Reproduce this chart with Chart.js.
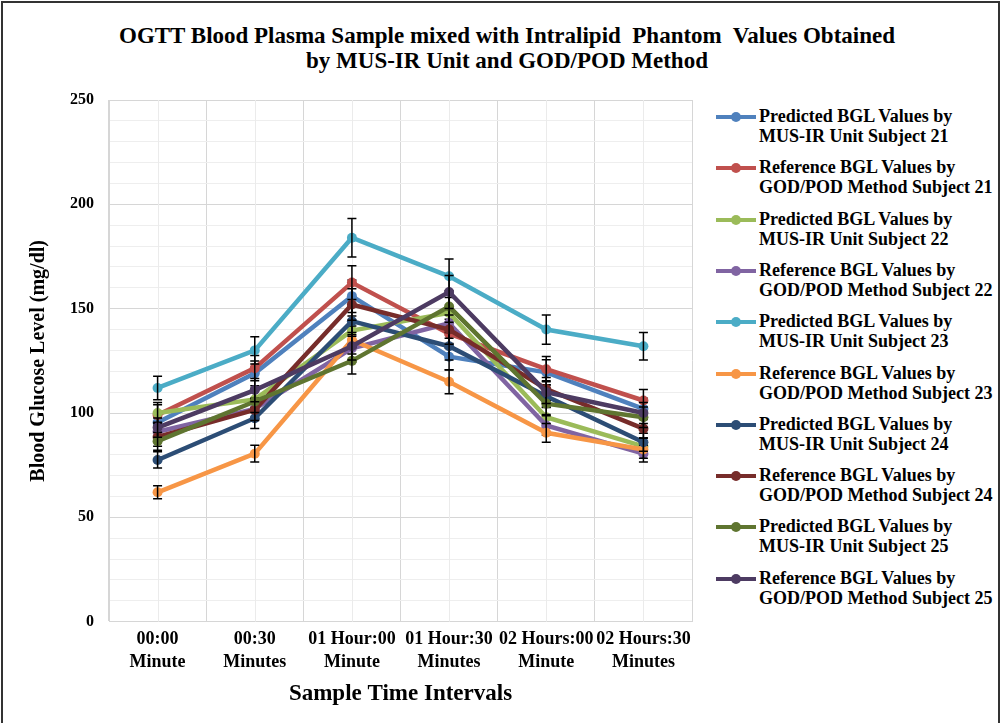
<!DOCTYPE html>
<html>
<head>
<meta charset="utf-8">
<script src="https://cdn.jsdelivr.net/npm/chart.js@4.4.0/dist/chart.umd.min.js"></script>
<style>
  body { margin: 0; background: #fff; }
  #frame { position: absolute; left: 1px; top: 1px; width: 995px; height: 725px; border: 2px solid #333; }
  #title { position: absolute; left: 0; top: 23px; width: 1014px; text-align: center;
           font: bold 23px "Liberation Serif", "Times New Roman", serif; line-height: 25px; color: #000; }
  #wrap { position: absolute; left: 0; top: 0; }
  #legend { position: absolute; left: 0; top: 0; font: bold 18px "Liberation Serif", "Times New Roman", serif; color: #000; }
  .item { position: absolute; left: 716px; }
  .sw { position: absolute; left: 0; top: 7px; width: 40px; height: 4px; }
  .dot { position: absolute; left: 15px; top: 4px; width: 10px; height: 10px; border-radius: 50%; }
  .txt { position: absolute; left: 43px; top: -2px; white-space: nowrap; line-height: 20px; }
</style>
</head>
<body>
<div id="frame"></div>
<div id="title">OGTT Blood Plasma Sample mixed with Intralipid&nbsp; Phantom&nbsp; Values Obtained<br>by MUS-IR Unit and GOD/POD Method</div>
<div id="wrap"><canvas id="chart" width="706" height="723"></canvas></div>
<div id="legend"></div>
<script>
// time points (x axis), two lines each
const timeLabels = [
    ["00:00", "Minute"],
    ["00:30", "Minutes"],
    ["01 Hour:00", "Minute"],
    ["01 Hour:30", "Minutes"],
    ["02 Hours:00", "Minute"],
    ["02 Hours:30", "Minutes"]
];

// BGL values in mg/dl
const pred21 = [95.5, 119, 156, 127, 119.5, 102];
const ref21  = [99, 121.5, 162.5, 138, 121, 106];
const pred22 = [100, 106.5, 139.5, 148, 98, 84];
const ref22  = [91, 102, 131, 143, 94, 80.5];
const pred23 = [112, 130, 184, 165.5, 140, 132];
const ref23  = [62, 80.5, 135, 115, 90.5, 82.5];
const pred24 = [77.5, 97.5, 144, 132, 108, 86];
const ref24  = [88.5, 101.5, 152, 140, 111.5, 92.5];
const pred25 = [86.5, 105.5, 125, 151, 104.5, 98];
const ref25  = [93, 111, 132, 158, 110, 100];

const seriesNames = [
    ["Predicted BGL Values by", "MUS-IR Unit Subject 21"],
    ["Reference BGL Values by", "GOD/POD Method Subject 21"],
    ["Predicted BGL Values by", "MUS-IR Unit Subject 22"],
    ["Reference BGL Values by", "GOD/POD Method Subject 22"],
    ["Predicted BGL Values by", "MUS-IR Unit Subject 23"],
    ["Reference BGL Values by", "GOD/POD Method Subject 23"],
    ["Predicted BGL Values by", "MUS-IR Unit Subject 24"],
    ["Reference BGL Values by", "GOD/POD Method Subject 24"],
    ["Predicted BGL Values by", "MUS-IR Unit Subject 25"],
    ["Reference BGL Values by", "GOD/POD Method Subject 25"]
];
const seriesData = [pred21, ref21, pred22, ref22, pred23, ref23, pred24, ref24, pred25, ref25];

const yTicks = [0, 50, 100, 150, 200, 250];
const errorPct = 0.05; // percentage error bars

const colors = ["#4F81BD", "#C0504D", "#9BBB59", "#8064A2", "#4BACC6",
                "#F79646", "#2C4D75", "#772C2A", "#5F7530", "#4D3B62"];

const serif = "'Liberation Serif', 'Times New Roman', serif";

// light lines through the category centres (Excel minor gridlines)
const minorX = {
    id: "minorX",
    beforeDatasetsDraw(chart) {
        const { ctx, chartArea, scales } = chart;
        ctx.save();
        ctx.strokeStyle = "#ebebeb";
        ctx.lineWidth = 1;
        timeLabels.forEach((_, i) => {
            const x = Math.round(scales.x.getPixelForValue(i)) + 0.5;
            ctx.beginPath();
            ctx.moveTo(x, chartArea.top);
            ctx.lineTo(x, chartArea.bottom);
            ctx.stroke();
        });
        ctx.restore();
    }
};

// black error bars, drawn with each series
const errorBars = {
    id: "errorBars",
    afterDatasetDraw(chart, args) {
        const { ctx, scales } = chart;
        const vals = chart.data.datasets[args.index].data;
        ctx.save();
        ctx.strokeStyle = "#000";
        ctx.lineWidth = 1.5;
        args.meta.data.forEach((pt, i) => {
            const v = vals[i];
            const yt = scales.y.getPixelForValue(v * (1 + errorPct));
            const yb = scales.y.getPixelForValue(v * (1 - errorPct));
            ctx.beginPath();
            ctx.moveTo(pt.x, yt); ctx.lineTo(pt.x, yb);
            ctx.moveTo(pt.x - 4.5, yt); ctx.lineTo(pt.x + 4.5, yt);
            ctx.moveTo(pt.x - 4.5, yb); ctx.lineTo(pt.x + 4.5, yb);
            ctx.stroke();
        });
        ctx.restore();
    }
};

const chart = new Chart(document.getElementById("chart"), {
    type: "line",
    data: {
        labels: timeLabels,
        datasets: seriesData.map((d, i) => ({
            label: seriesNames[i].join(" "),
            data: d,
            borderColor: colors[i],
            backgroundColor: colors[i],
            borderWidth: 4.5,
            pointRadius: 5,
            pointBorderWidth: 0,
            tension: 0,
            order: seriesData.length - i
        }))
    },
    options: {
        responsive: false,
        animation: false,
        layout: { padding: { top: 100, left: 23, right: 14, bottom: 15 } },
        plugins: {
            legend: { display: false },
            tooltip: { enabled: false }
        },
        scales: {
            x: {
                offset: true,
                grid: { offset: true, color: "#d6d6d6", drawTicks: false },
                border: { color: "#d6d6d6" },
                ticks: {
                    color: "#000", padding: 6, autoSkip: false, maxRotation: 0, minRotation: 0,
                    font: { family: serif, size: 18, weight: "bold", lineHeight: 1.27 }
                },
                title: { display: true, text: "Sample Time Intervals", color: "#000", padding: { top: 1, bottom: 0 },
                         font: { family: serif, size: 23, weight: "bold" } }
            },
            y: {
                min: yTicks[0],
                max: yTicks[yTicks.length - 1],
                grid: {
                    drawTicks: false,
                    color: c => (yTicks.includes(c.tick.value) ? "#d6d6d6" : "#eeeeee")
                },
                border: { color: "#d6d6d6" },
                ticks: {
                    stepSize: 10,
                    autoSkip: false,
                    padding: 15,
                    color: "#000",
                    font: { family: serif, size: 16, weight: "bold" },
                    callback: v => (yTicks.includes(v) ? v : "")
                },
                title: { display: true, text: "Blood Glucose Level (mg/dl)", color: "#000", padding: { bottom: 4 },
                         font: { family: serif, size: 20, weight: "bold" } }
            }
        }
    },
    plugins: [minorX, errorBars]
});

// legend on the right, two lines per entry
const legend = document.getElementById("legend");
seriesNames.forEach((name, i) => {
    const item = document.createElement("div");
    item.className = "item";
    item.style.top = (108 + i * 51.3) + "px";
    item.innerHTML = '<div class="sw" style="background:' + colors[i] + '"></div>' +
        '<div class="dot" style="background:' + colors[i] + '"></div>' +
        '<div class="txt">' + name[0] + "<br>" + name[1] + "</div>";
    legend.appendChild(item);
});
</script>
</body>
</html>
